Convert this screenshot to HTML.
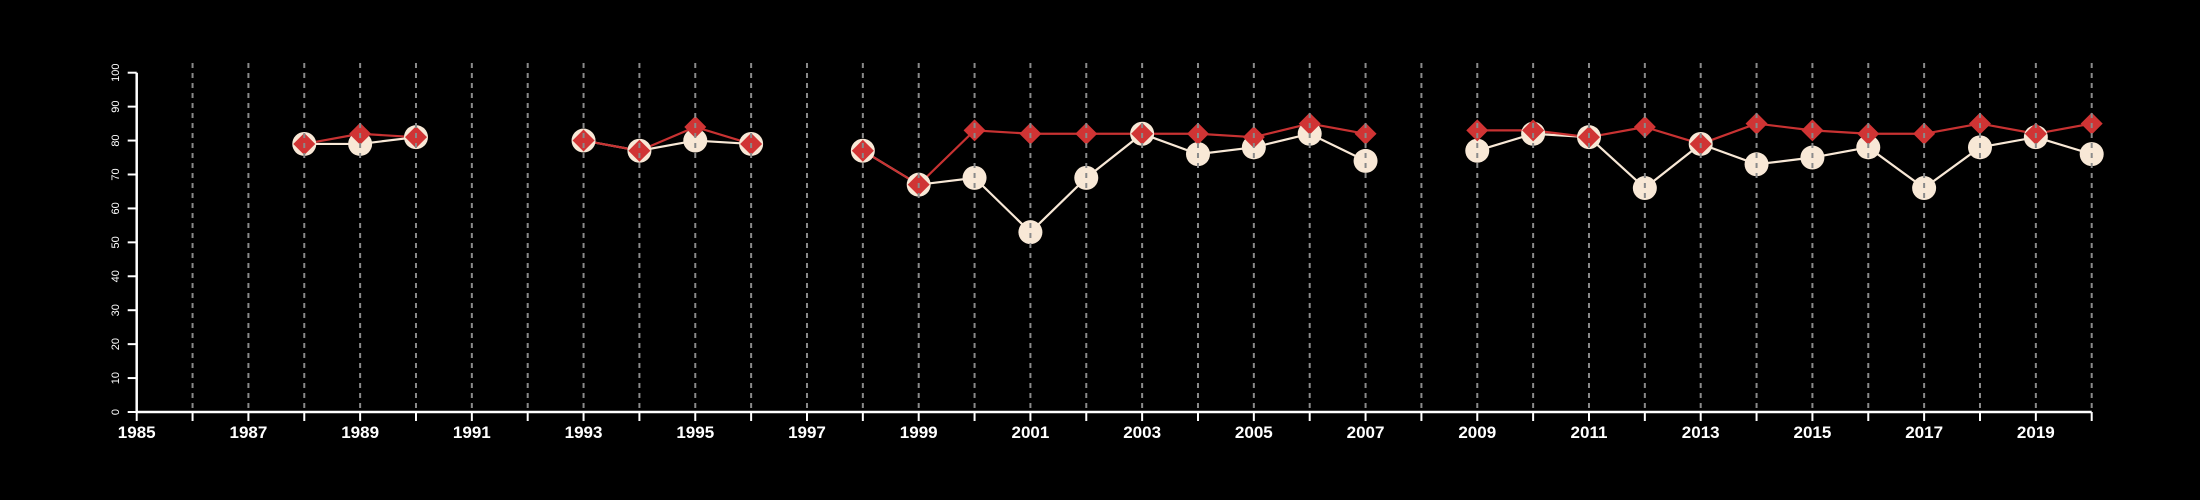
<!DOCTYPE html>
<html><head><meta charset="utf-8"><style>
html,body{margin:0;padding:0;background:#000;}
svg{display:block;font-family:"Liberation Sans",sans-serif;}
</style></head><body>
<svg id="chart" width="2200" height="500"></svg>
<script>
const years=[1988,1989,1990,1993,1994,1995,1996,1998,1999,2000,2001,2002,2003,2004,2005,2006,2007,2009,2010,2011,2012,2013,2014,2015,2016,2017,2018,2019,2020];
const seriesA=[79,79,81,80,77,80,79,77,67,69,53,69,82,76,78,82,74,77,82,81,66,79,73,75,78,66,78,81,76];
const seriesB=[79,82,81,80,77,84,79,77,67,83,82,82,82,82,81,85,82,83,83,81,84,79,85,83,82,82,85,82,85];
const yTicks=[0,10,20,30,40,50,60,70,80,90,100];
const xLabels=[1985,1987,1989,1991,1993,1995,1997,1999,2001,2003,2005,2007,2009,2011,2013,2015,2017,2019];
const xMin=1985,xMax=2020;

const NS='http://www.w3.org/2000/svg';
const svg=document.getElementById('chart');
const X0=136.7,X1=2091.7,Y0=412,Y1=72.7;
const sx=v=>X0+(v-xMin)/(xMax-xMin)*(X1-X0);
const sy=v=>Y0+(v-0)/(100-0)*(Y1-Y0);
function mk(tag,attrs,parent){const e=document.createElementNS(NS,tag);for(const k in attrs)e.setAttribute(k,attrs[k]);(parent||svg).appendChild(e);return e;}

// series lines (broken at gaps)
function drawLine(vals,color,name){
  let seg=[];
  const flush=()=>{if(seg.length>1){const p=mk('polyline',{points:seg.join(' '),fill:'none',stroke:color,'stroke-width':2.2});
    
    }seg=[];};
  for(let i=0;i<years.length;i++){
    if(i>0&&years[i]-years[i-1]>1)flush();
    seg.push(sx(years[i])+','+sy(vals[i]));
  }
  flush();
}
drawLine(seriesA,'#f8e8d6','series-a-line');
drawLine(seriesB,'#c83232','series-b-line');
for(let i=0;i<years.length;i++){
  const c=mk('circle',{cx:sx(years[i]),cy:sy(seriesA[i]),r:12,fill:'#f8e8d6'});
  
  
}
for(let i=0;i<years.length;i++){
  const x=sx(years[i]),y=sy(seriesB[i]),d=11;
  const p=mk('polygon',{points:`${x},${y-d} ${x+d},${y} ${x},${y+d} ${x-d},${y}`,fill:'#d03434'});
  
  
}
// gridlines on top
for(let yr=xMin+1;yr<=xMax;yr++){
  const g=mk('line',{x1:sx(yr),x2:sx(yr),y1:63,y2:Y0,stroke:'#8a8a8a','stroke-width':2,'stroke-dasharray':'5 5'});
  
  
}
// axes
const xa=mk('line',{x1:X0,x2:X1,y1:Y0,y2:Y0,stroke:'#fff','stroke-width':2.5});


for(let yr=xMin;yr<=xMax;yr++){
  const t=mk('line',{x1:sx(yr),x2:sx(yr),y1:Y0,y2:Y0+9,stroke:'#fff','stroke-width':2});
  
  
}
xLabels.forEach(v=>{
  const t=mk('text',{x:sx(v),y:438,fill:'#fff','font-size':17,'font-weight':'bold','text-anchor':'middle'});
  t.textContent=v;
  
  
});
const ya=mk('line',{x1:X0,x2:X0,y1:Y0,y2:Y1,stroke:'#fff','stroke-width':2.5});


yTicks.forEach(v=>{
  const t=mk('line',{x1:X0-9,x2:X0,y1:sy(v),y2:sy(v),stroke:'#fff','stroke-width':2});
  
  
  const l=mk('text',{x:0,y:0,fill:'#fff','font-size':11,'text-anchor':'middle',transform:`translate(119,${sy(v)}) rotate(-90)`});
  l.textContent=v;
  
  
});
</script>
</body></html>
